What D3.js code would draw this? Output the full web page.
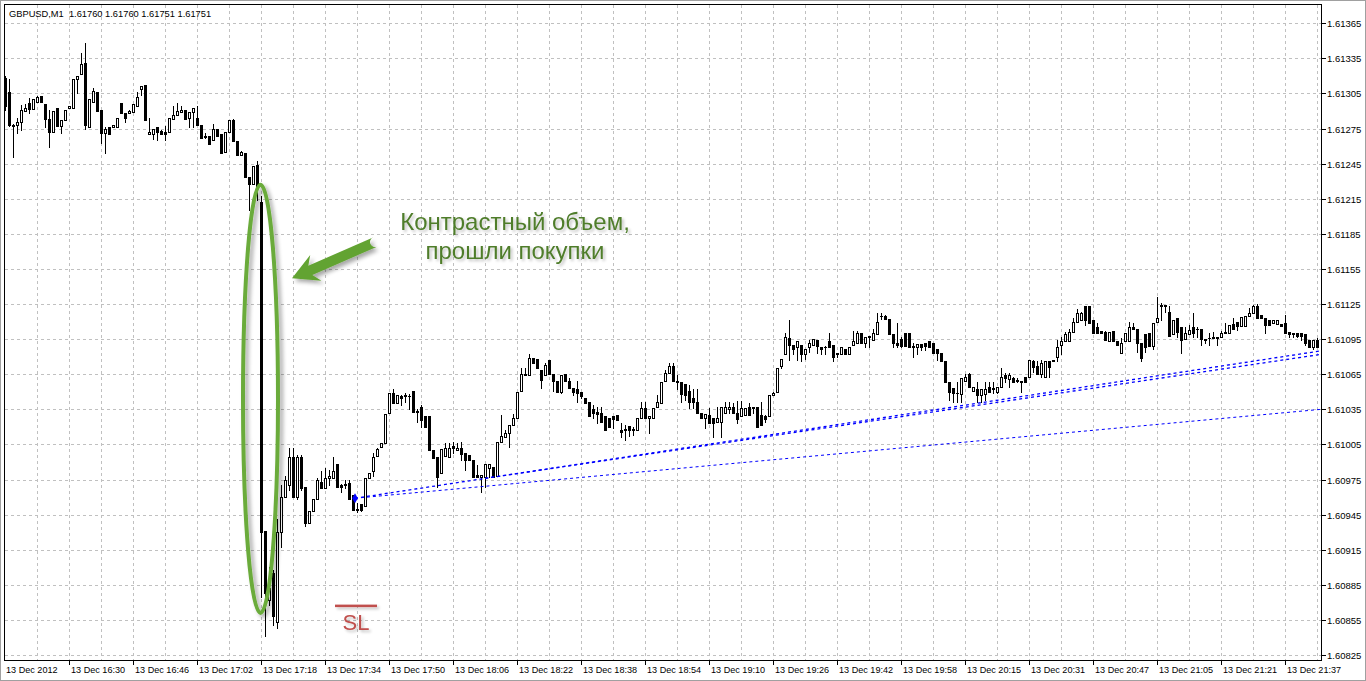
<!DOCTYPE html>
<html><head><meta charset="utf-8">
<script src="https://cdn.jsdelivr.net/npm/d3@7"></script>
<style>html,body{margin:0;padding:0;background:#fff;overflow:hidden}</style>
</head><body>
<svg id="c" width="1366" height="681"></svg>
<script>
const titleText = "GBPUSD,M1\u00a0\u00a01.61760 1.61760 1.61751 1.61751";

const open = [
1.61318,1.61306,1.61277,1.61278,1.61281,1.61290,1.61297,1.61292,1.61298,1.61303,
1.61296,1.61283,1.61272,1.61293,1.61277,1.61282,1.61293,1.61293,1.61317,1.61322,
1.61331,1.61276,1.61298,1.61306,1.61291,1.61271,1.61276,1.61276,1.61276,1.61297,
1.61288,1.61288,1.61289,1.61294,1.61309,1.61312,1.61270,1.61270,1.61276,1.61273,
1.61272,1.61272,1.61283,1.61287,1.61289,1.61291,1.61284,1.61289,1.61284,1.61278,
1.61268,1.61269,1.61265,1.61275,1.61270,1.61255,1.61272,1.61282,1.61264,1.61252,
1.61254,1.61234,1.61228,1.61244,1.61212,1.60931,1.60872,1.60895,1.60853,1.60930,
1.60960,1.60970,1.60994,1.60960,1.60994,1.60969,1.60938,1.60948,1.60958,1.60973,
1.60968,1.60976,1.60976,1.60988,1.60970,1.60970,1.60972,1.60962,1.60949,1.60954,
1.60952,1.60976,1.60982,1.60995,1.61003,1.61006,1.61032,1.61049,1.61040,1.61046,
1.61047,1.61046,1.61051,1.61034,1.61037,1.61029,1.61029,1.61000,1.60994,1.60981,
1.60995,1.60994,1.61004,1.61000,1.61002,1.60998,1.60996,1.60992,1.60979,1.60977,
1.60977,1.60985,1.60986,1.60978,1.61007,1.61011,1.61015,1.61022,1.61028,1.61051,
1.61065,1.61064,1.61079,1.61078,1.61069,1.61064,1.61077,1.61065,1.61059,1.61050,
1.61065,1.61059,1.61053,1.61052,1.61050,1.61045,1.61041,1.61035,1.61033,1.61032,
1.61029,1.61028,1.61029,1.61030,1.61017,1.61017,1.61021,1.61018,1.61017,1.61028,
1.61036,1.61028,1.61028,1.61037,1.61040,1.61059,1.61066,1.61072,1.61059,1.61058,
1.61057,1.61051,1.61045,1.61041,1.61032,1.61028,1.61030,1.61028,1.61024,1.61024,
1.61032,1.61035,1.61037,1.61032,1.61029,1.61030,1.61037,1.61036,1.61037,1.61030,
1.61029,1.61029,1.61047,1.61050,1.61072,1.61082,1.61096,1.61090,1.61088,1.61090,
1.61082,1.61088,1.61090,1.61094,1.61088,1.61088,1.61093,1.61090,1.61083,1.61082,
1.61087,1.61082,1.61090,1.61092,1.61100,1.61092,1.61097,1.61094,1.61099,1.61115,
1.61115,1.61112,1.61099,1.61092,1.61095,1.61100,1.61100,1.61088,1.61088,1.61091,
1.61092,1.61093,1.61092,1.61087,1.61083,1.61076,1.61058,1.61053,1.61049,1.61048,
1.61059,1.61065,1.61051,1.61052,1.61047,1.61048,1.61054,1.61052,1.61050,1.61054,
1.61064,1.61061,1.61062,1.61059,1.61058,1.61063,1.61063,1.61076,1.61072,1.61065,
1.61063,1.61076,1.61076,1.61080,1.61090,1.61093,1.61093,1.61101,1.61110,1.61111,
1.61123,1.61123,1.61111,1.61105,1.61102,1.61101,1.61093,1.61102,1.61093,1.61083,
1.61093,1.61093,1.61105,1.61104,1.61092,1.61099,1.61100,1.61089,1.61110,1.61123,
1.61123,1.61118,1.61099,1.61113,1.61105,1.61095,1.61099,1.61105,1.61104,1.61104,
1.61095,1.61096,1.61097,1.61097,1.61097,1.61100,1.61100,1.61108,1.61110,1.61106,
1.61106,1.61115,1.61117,1.61123,1.61116,1.61113,1.61111,1.61109,1.61108,1.61108,
1.61109,1.61101,1.61100,1.61100,1.61100,1.61099,1.61094,1.61088,1.61094];

const high = [
1.61320,1.61317,1.61279,1.61284,1.61295,1.61296,1.61301,1.61300,1.61303,1.61303,
1.61296,1.61291,1.61290,1.61293,1.61282,1.61291,1.61294,1.61317,1.61320,1.61340,
1.61348,1.61300,1.61310,1.61306,1.61291,1.61276,1.61276,1.61278,1.61284,1.61297,
1.61288,1.61291,1.61296,1.61306,1.61311,1.61312,1.61284,1.61275,1.61276,1.61274,
1.61277,1.61284,1.61294,1.61297,1.61294,1.61291,1.61289,1.61293,1.61294,1.61278,
1.61271,1.61269,1.61279,1.61275,1.61270,1.61272,1.61282,1.61283,1.61264,1.61256,
1.61254,1.61234,1.61243,1.61247,1.61217,1.60931,1.60900,1.60898,1.60941,1.60970,
1.60978,1.61002,1.61002,1.60996,1.60996,1.60969,1.60948,1.60958,1.60976,1.60982,
1.60985,1.60983,1.60994,1.60988,1.60971,1.60975,1.60975,1.60962,1.60955,1.60954,
1.60976,1.60981,1.60998,1.61002,1.61006,1.61031,1.61049,1.61052,1.61047,1.61047,
1.61049,1.61048,1.61051,1.61035,1.61039,1.61029,1.61029,1.61000,1.60994,1.61001,
1.61006,1.61006,1.61007,1.61006,1.61007,1.60998,1.60996,1.60992,1.60987,1.60979,
1.60988,1.60988,1.60986,1.61007,1.61030,1.61017,1.61022,1.61031,1.61050,1.61070,
1.61070,1.61082,1.61079,1.61078,1.61069,1.61075,1.61077,1.61065,1.61059,1.61064,
1.61065,1.61062,1.61053,1.61059,1.61050,1.61045,1.61041,1.61039,1.61037,1.61037,
1.61029,1.61028,1.61029,1.61030,1.61023,1.61022,1.61021,1.61020,1.61028,1.61041,
1.61041,1.61029,1.61036,1.61047,1.61058,1.61069,1.61075,1.61075,1.61064,1.61058,
1.61057,1.61056,1.61052,1.61052,1.61032,1.61031,1.61036,1.61028,1.61037,1.61037,
1.61041,1.61041,1.61040,1.61042,1.61042,1.61036,1.61040,1.61037,1.61037,1.61041,
1.61030,1.61047,1.61050,1.61070,1.61078,1.61100,1.61111,1.61090,1.61093,1.61090,
1.61087,1.61094,1.61095,1.61094,1.61088,1.61089,1.61100,1.61090,1.61083,1.61088,
1.61087,1.61088,1.61102,1.61102,1.61100,1.61097,1.61098,1.61104,1.61117,1.61117,
1.61116,1.61112,1.61099,1.61109,1.61097,1.61100,1.61100,1.61092,1.61091,1.61091,
1.61092,1.61093,1.61092,1.61087,1.61083,1.61076,1.61058,1.61053,1.61058,1.61062,
1.61065,1.61066,1.61054,1.61058,1.61052,1.61058,1.61058,1.61058,1.61054,1.61070,
1.61066,1.61066,1.61063,1.61062,1.61059,1.61063,1.61077,1.61077,1.61076,1.61077,
1.61076,1.61076,1.61077,1.61094,1.61097,1.61101,1.61104,1.61113,1.61121,1.61118,
1.61123,1.61123,1.61111,1.61109,1.61102,1.61102,1.61101,1.61102,1.61093,1.61096,
1.61100,1.61110,1.61109,1.61104,1.61092,1.61099,1.61100,1.61109,1.61131,1.61126,
1.61124,1.61123,1.61111,1.61113,1.61105,1.61105,1.61107,1.61117,1.61105,1.61104,
1.61095,1.61100,1.61101,1.61097,1.61102,1.61109,1.61107,1.61113,1.61110,1.61114,
1.61115,1.61122,1.61124,1.61125,1.61116,1.61113,1.61111,1.61111,1.61111,1.61108,
1.61116,1.61101,1.61100,1.61100,1.61100,1.61099,1.61094,1.61094,1.61096];

const low = [
1.61291,1.61277,1.61251,1.61271,1.61274,1.61290,1.61288,1.61292,1.61298,1.61298,
1.61276,1.61259,1.61272,1.61277,1.61271,1.61282,1.61293,1.61293,1.61305,1.61322,
1.61275,1.61276,1.61298,1.61290,1.61263,1.61254,1.61270,1.61276,1.61276,1.61288,
1.61281,1.61288,1.61289,1.61294,1.61304,1.61282,1.61270,1.61266,1.61265,1.61270,
1.61265,1.61272,1.61283,1.61287,1.61289,1.61283,1.61276,1.61276,1.61278,1.61267,
1.61267,1.61262,1.61265,1.61269,1.61254,1.61255,1.61272,1.61264,1.61252,1.61252,
1.61234,1.61205,1.61228,1.61214,1.60875,1.60841,1.60868,1.60851,1.60848,1.60917,
1.60960,1.60966,1.60960,1.60958,1.60966,1.60935,1.60938,1.60948,1.60958,1.60968,
1.60968,1.60970,1.60976,1.60969,1.60964,1.60968,1.60958,1.60949,1.60947,1.60948,
1.60952,1.60976,1.60978,1.60995,1.61003,1.61006,1.61032,1.61040,1.61040,1.61039,
1.61041,1.61035,1.61033,1.61024,1.61020,1.61020,1.61000,1.60993,1.60969,1.60981,
1.60995,1.60994,1.60998,1.61000,1.60992,1.60983,1.60992,1.60977,1.60977,1.60964,
1.60969,1.60977,1.60977,1.60978,1.61007,1.61011,1.61003,1.61022,1.61028,1.61051,
1.61064,1.61064,1.61075,1.61070,1.61053,1.61064,1.61065,1.61051,1.61050,1.61049,
1.61059,1.61053,1.61047,1.61041,1.61045,1.61040,1.61029,1.61028,1.61023,1.61024,
1.61017,1.61020,1.61019,1.61026,1.61011,1.61009,1.61012,1.61013,1.61017,1.61028,
1.61028,1.61015,1.61028,1.61037,1.61040,1.61059,1.61066,1.61059,1.61052,1.61041,
1.61043,1.61036,1.61036,1.61032,1.61028,1.61019,1.61023,1.61011,1.61024,1.61011,
1.61032,1.61032,1.61032,1.61023,1.61029,1.61030,1.61030,1.61032,1.61020,1.61022,
1.61024,1.61029,1.61047,1.61050,1.61070,1.61082,1.61077,1.61082,1.61077,1.61076,
1.61078,1.61084,1.61090,1.61083,1.61082,1.61082,1.61088,1.61076,1.61080,1.61082,
1.61082,1.61082,1.61090,1.61092,1.61092,1.61088,1.61088,1.61094,1.61099,1.61112,
1.61112,1.61099,1.61088,1.61088,1.61088,1.61089,1.61088,1.61080,1.61082,1.61086,
1.61086,1.61088,1.61083,1.61077,1.61076,1.61058,1.61043,1.61041,1.61041,1.61041,
1.61059,1.61054,1.61051,1.61041,1.61041,1.61043,1.61050,1.61049,1.61049,1.61054,
1.61058,1.61054,1.61058,1.61058,1.61050,1.61058,1.61063,1.61067,1.61065,1.61063,
1.61063,1.61063,1.61076,1.61076,1.61082,1.61093,1.61093,1.61101,1.61110,1.61111,
1.61107,1.61109,1.61100,1.61100,1.61100,1.61094,1.61093,1.61093,1.61090,1.61083,
1.61093,1.61093,1.61104,1.61084,1.61076,1.61084,1.61089,1.61087,1.61110,1.61111,
1.61118,1.61098,1.61099,1.61097,1.61083,1.61095,1.61099,1.61097,1.61097,1.61090,
1.61092,1.61090,1.61096,1.61090,1.61097,1.61100,1.61100,1.61104,1.61103,1.61106,
1.61106,1.61115,1.61117,1.61113,1.61113,1.61100,1.61107,1.61109,1.61108,1.61106,
1.61100,1.61097,1.61097,1.61097,1.61094,1.61090,1.61088,1.61087,1.61088];

const close = [
1.61294,1.61278,1.61278,1.61281,1.61291,1.61293,1.61292,1.61300,1.61302,1.61298,
1.61283,1.61272,1.61290,1.61277,1.61282,1.61291,1.61294,1.61317,1.61320,1.61330,
1.61278,1.61300,1.61307,1.61290,1.61271,1.61275,1.61270,1.61278,1.61284,1.61288,
1.61284,1.61290,1.61296,1.61302,1.61311,1.61282,1.61272,1.61275,1.61272,1.61270,
1.61270,1.61284,1.61287,1.61290,1.61291,1.61283,1.61289,1.61293,1.61278,1.61267,
1.61269,1.61262,1.61275,1.61269,1.61254,1.61272,1.61282,1.61264,1.61252,1.61255,
1.61234,1.61228,1.61243,1.61225,1.60930,1.60878,1.60882,1.60858,1.60930,1.60960,
1.60975,1.60994,1.60960,1.60994,1.60968,1.60938,1.60948,1.60958,1.60975,1.60968,
1.60976,1.60978,1.60982,1.60969,1.60969,1.60971,1.60958,1.60949,1.60950,1.60949,
1.60976,1.60981,1.60994,1.61001,1.61006,1.61031,1.61049,1.61040,1.61047,1.61045,
1.61046,1.61046,1.61033,1.61033,1.61026,1.61020,1.61000,1.60993,1.60977,1.61001,
1.61002,1.61002,1.61002,1.61002,1.60997,1.60992,1.60992,1.60977,1.60977,1.60979,
1.60988,1.60988,1.60977,1.61007,1.61012,1.61015,1.61022,1.61028,1.61050,1.61065,
1.61064,1.61079,1.61075,1.61070,1.61060,1.61073,1.61065,1.61059,1.61050,1.61064,
1.61059,1.61053,1.61050,1.61049,1.61046,1.61040,1.61029,1.61032,1.61031,1.61024,
1.61017,1.61020,1.61027,1.61026,1.61016,1.61018,1.61017,1.61017,1.61028,1.61036,
1.61028,1.61029,1.61036,1.61041,1.61058,1.61066,1.61072,1.61059,1.61058,1.61048,
1.61047,1.61041,1.61041,1.61032,1.61028,1.61031,1.61023,1.61023,1.61028,1.61037,
1.61037,1.61037,1.61032,1.61027,1.61036,1.61036,1.61030,1.61037,1.61020,1.61022,
1.61027,1.61047,1.61049,1.61070,1.61078,1.61097,1.61090,1.61087,1.61093,1.61082,
1.61087,1.61092,1.61095,1.61089,1.61087,1.61088,1.61088,1.61080,1.61082,1.61088,
1.61082,1.61088,1.61093,1.61100,1.61092,1.61097,1.61098,1.61100,1.61110,1.61115,
1.61112,1.61099,1.61092,1.61090,1.61089,1.61089,1.61088,1.61089,1.61091,1.61088,
1.61089,1.61088,1.61083,1.61083,1.61076,1.61058,1.61050,1.61049,1.61049,1.61062,
1.61063,1.61054,1.61054,1.61047,1.61052,1.61052,1.61050,1.61053,1.61054,1.61063,
1.61062,1.61064,1.61058,1.61060,1.61059,1.61058,1.61077,1.61071,1.61065,1.61075,
1.61076,1.61071,1.61077,1.61088,1.61093,1.61099,1.61101,1.61110,1.61117,1.61117,
1.61111,1.61109,1.61100,1.61100,1.61100,1.61094,1.61101,1.61093,1.61090,1.61092,
1.61100,1.61105,1.61104,1.61092,1.61079,1.61088,1.61089,1.61109,1.61113,1.61124,
1.61124,1.61098,1.61111,1.61101,1.61094,1.61100,1.61103,1.61100,1.61104,1.61095,
1.61094,1.61096,1.61096,1.61096,1.61100,1.61101,1.61107,1.61104,1.61106,1.61114,
1.61115,1.61117,1.61123,1.61113,1.61113,1.61107,1.61107,1.61111,1.61111,1.61106,
1.61100,1.61099,1.61099,1.61098,1.61098,1.61092,1.61088,1.61094,1.61088];

const timeLabels = ["13 Dec 2012","13 Dec 16:30","13 Dec 16:46","13 Dec 17:02","13 Dec 17:18",
"13 Dec 17:34","13 Dec 17:50","13 Dec 18:06","13 Dec 18:22","13 Dec 18:38","13 Dec 18:54",
"13 Dec 19:10","13 Dec 19:26","13 Dec 19:42","13 Dec 19:58","13 Dec 20:15","13 Dec 20:31",
"13 Dec 20:47","13 Dec 21:05","13 Dec 21:21","13 Dec 21:37"];
const barsPerLabel = 16;
const barsPerGrid = 8;

const priceTicks = [1.61365,1.61335,1.61305,1.61275,1.61245,1.61215,1.61185,1.61155,1.61125,
1.61095,1.61065,1.61035,1.61005,1.60975,1.60945,1.60915,1.60885,1.60855,1.60825];

// trend lines: [startBar, startPrice, endBar, endPrice]
const trendLines = [
  [87.5, 1.60959, 329, 1.61085],
  [120, 1.60976, 329, 1.61082],
  [87.5, 1.60959, 329, 1.61035]
];
const anchorPoint = [87.5, 1.60959];

const calloutLines = ["Контрастный объем,", "прошли покупки"];
const slLabel = "SL";

// ---------------- drawing ----------------
const N = open.length;
const svg = d3.select("#c");
const F = "'Liberation Sans', Arial, sans-serif";
const frame = {l:4.5, t:4.5, r:1321.5, b:660.5};

const x = d3.scaleLinear().domain([0, N - 1]).range([5, 5 + 4 * (N - 1)]);
const y = d3.scaleLinear().domain([1.60825, 1.61365]).range([655, 23.3]);
const px = v => Math.round(x(v));
const py = v => Math.round(y(v));

const defs = svg.append("defs");
defs.append("clipPath").attr("id","plotclip").append("rect")
  .attr("x", frame.l).attr("y", frame.t).attr("width", frame.r - frame.l).attr("height", frame.b - frame.t);
function makeShadow(id, blur, off, alpha) {
  const f = defs.append("filter").attr("id", id).attr("filterUnits","userSpaceOnUse")
    .attr("x", 0).attr("y", 0).attr("width", 1366).attr("height", 681);
  f.append("feGaussianBlur").attr("in","SourceAlpha").attr("stdDeviation", blur).attr("result","b");
  f.append("feOffset").attr("in","b").attr("dx", off).attr("dy", off).attr("result","o");
  f.append("feComponentTransfer").attr("in","o").attr("result","oa")
    .append("feFuncA").attr("type","linear").attr("slope", alpha);
  const m = f.append("feMerge");
  m.append("feMergeNode").attr("in","oa");
  m.append("feMergeNode").attr("in","SourceGraphic");
}
makeShadow("shadow", 2.2, 3, 0.35);
makeShadow("tshadow", 1.5, 2, 0.25);

svg.append("rect").attr("width",1366).attr("height",681).attr("fill","#fff");

// grid
const grid = svg.append("g").attr("shape-rendering","crispEdges").attr("stroke","#c0c0c0")
  .attr("stroke-dasharray","3,3");
priceTicks.forEach(p => {
  grid.append("line").attr("x1", frame.l).attr("x2", frame.r)
    .attr("y1", py(p) + 0.5).attr("y2", py(p) + 0.5);
});
for (let b = barsPerGrid; b < N; b += barsPerGrid) {
  grid.append("line").attr("x1", px(b) + 0.5).attr("x2", px(b) + 0.5)
    .attr("y1", frame.t).attr("y2", frame.b);
}

// candles
const cg = svg.append("g").attr("clip-path","url(#plotclip)").attr("shape-rendering","crispEdges");
for (let i = 0; i < N; i++) {
  const cx = px(i);
  const o = open[i], c = close[i];
  const yh = py(Math.max(high[i], o, c)), yl = py(Math.min(low[i], o, c));
  cg.append("line").attr("x1", cx + 0.5).attr("x2", cx + 0.5).attr("y1", yh).attr("y2", yl + 1)
    .attr("stroke","#000");
  const yo = py(o), yc = py(c);
  const top = Math.min(yo, yc), bot = Math.max(yo, yc);
  if (bot - top < 1) {
    cg.append("line").attr("x1", cx - 1).attr("x2", cx + 2).attr("y1", top + 0.5).attr("y2", top + 0.5).attr("stroke","#000");
  } else if (c < o) {
    cg.append("rect").attr("x", cx - 1).attr("y", top).attr("width", 3).attr("height", bot - top + 1).attr("fill","#000");
  } else {
    cg.append("rect").attr("x", cx - 0.5).attr("y", top + 0.5).attr("width", 2).attr("height", bot - top)
      .attr("fill","#fff").attr("stroke","#000");
  }
}

// trend lines
const tg = svg.append("g").attr("clip-path","url(#plotclip)");
trendLines.forEach((t, k) => {
  tg.append("line").attr("x1", x(t[0])).attr("y1", y(t[1])).attr("x2", x(t[2])).attr("y2", y(t[3]))
    .attr("stroke","#0000ff").attr("stroke-width", k === 2 ? 1 : 1.3).attr("stroke-dasharray","3,3");
});
tg.append("path").attr("d", d3.symbol(d3.symbolDiamond, 28)())
  .attr("transform", `translate(${x(anchorPoint[0])},${y(anchorPoint[1])})`).attr("fill","#0000ff");

// frame
svg.append("rect").attr("x", frame.l).attr("y", frame.t).attr("width", frame.r - frame.l).attr("height", frame.b - frame.t)
  .attr("fill","none").attr("stroke","#000").attr("shape-rendering","crispEdges");
svg.append("rect").attr("x",0.5).attr("y",0.5).attr("width",1365).attr("height",680)
  .attr("fill","none").attr("stroke","#a0a0a0").attr("shape-rendering","crispEdges");

// price axis
const ya = svg.append("g");
priceTicks.forEach(p => {
  ya.append("line").attr("x1", frame.r).attr("x2", frame.r + 4).attr("y1", py(p) + 0.5).attr("y2", py(p) + 0.5)
    .attr("stroke","#000").attr("shape-rendering","crispEdges");
  ya.append("text").attr("x", 1327).attr("y", py(p) + 4).text(p.toFixed(5))
    .attr("font-family", F).attr("font-size", "9.5px").attr("fill","#000");
});

// time axis
const xa = svg.append("g");
timeLabels.forEach((lab, k) => {
  const b = k * barsPerLabel;
  const tx = px(b);
  if (k > 0) xa.append("line").attr("x1", tx + 0.5).attr("x2", tx + 0.5).attr("y1", frame.b).attr("y2", frame.b + 4)
    .attr("stroke","#000").attr("shape-rendering","crispEdges");
  xa.append("text").attr("x", k === 0 ? 6 : tx + 2).attr("y", 673).text(lab)
    .attr("font-family", F).attr("font-size", "9.1px").attr("fill","#000");
});

// title
svg.append("text").attr("x", 9).attr("y", 17).text(titleText)
  .attr("font-family", F).attr("font-size","9.3px").attr("fill","#000");

// annotations: ellipse around the spike candle
const ann = svg.append("g");
const ex = x(64) - 0.5, eTop = y(1.61227), eBot = y(1.60861);
ann.append("ellipse").attr("cx", ex).attr("cy", (eTop + eBot) / 2).attr("rx", 17.5).attr("ry", (eBot - eTop) / 2)
  .attr("fill","none").attr("stroke","#6aab3a").attr("stroke-width", 4).attr("filter","url(#shadow)");

// arrow
const tail = [x(92.5), y(1.61178)], tip = [x(71.75), y(1.61147)];
const dx = tip[0] - tail[0], dy = tip[1] - tail[1], L = Math.hypot(dx, dy);
const ux = dx / L, uy = dy / L, nx = -uy, ny = ux;
const hl = 26, hw = 14, sw = 5, notch = 6;
const baseC = [tip[0] - ux * hl, tip[1] - uy * hl];
const innerC = [baseC[0] + ux * notch, baseC[1] + uy * notch];
const pts = [
  [tail[0] + nx * sw, tail[1] + ny * sw],
  [innerC[0] + nx * sw, innerC[1] + ny * sw],
  [baseC[0] + nx * hw, baseC[1] + ny * hw],
  tip,
  [baseC[0] - nx * hw, baseC[1] - ny * hw],
  [innerC[0] - nx * sw, innerC[1] - ny * sw],
  [tail[0] - nx * sw, tail[1] - ny * sw]
];
let dpath = "M" + pts.map(p => p.join(",")).join("L");
dpath += `A${sw},${sw} 0 0 1 ${pts[0][0]},${pts[0][1]}Z`;
ann.append("path").attr("d", dpath).attr("fill","#62a332").attr("filter","url(#shadow)");

// callout text
const tcx = x(127.5);
calloutLines.forEach((t, k) => {
  ann.append("text").attr("x", tcx).attr("y", 230 + k * 29).attr("text-anchor","middle").text(t)
    .attr("font-family", F).attr("font-size","24px").attr("fill","#4f7d2b").attr("filter","url(#tshadow)");
});

// SL mark
const slx = x(87.75), sly = y(1.60867);
ann.append("rect").attr("x", slx - 21).attr("y", sly - 1.25).attr("width", 42).attr("height", 2.5)
  .attr("fill","#c0504d").attr("filter","url(#tshadow)");
ann.append("text").attr("x", slx).attr("y", sly + 24).attr("text-anchor","middle").text(slLabel)
  .attr("font-family", F).attr("font-size","22px").attr("fill","#c0504d").attr("filter","url(#tshadow)");
</script>
</body></html>
